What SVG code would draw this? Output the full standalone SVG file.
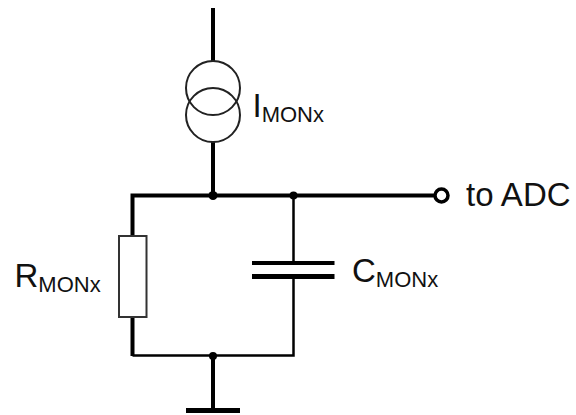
<svg xmlns="http://www.w3.org/2000/svg" width="576" height="415" viewBox="0 0 576 415">
<style>
.w{fill:none;stroke:#000;stroke-linecap:butt;stroke-linejoin:miter}
.t4{stroke-width:4}.t3{stroke-width:2.500}.t5{stroke-width:5}
.s{fill:none;stroke:#222;stroke-width:2}
text{font-family:"Liberation Sans",Arial,sans-serif;fill:#111}
.m{font-size:33px}.b{font-size:22px}
</style>
<rect width="576" height="415" fill="#fff"/>
<g id="connectors">
<path class="w t4" d="M213 8V61M213 142V195M132.500 317V356"/>
<path class="w t4" d="M132.500 236V195.500H434"/>
<path class="w t3" d="M132.500 355.500H293.500V276M293.500 195V263"/>
<path class="w t4" d="M213 356V410"/>
<circle cx="213" cy="195.500" r="4.500"/>
<circle cx="293.500" cy="195.500" r="4"/>
<circle cx="213" cy="356" r="4"/>
</g>
<g id="source"><circle class="s" cx="213" cy="88" r="27"/><circle class="s" cx="213" cy="115" r="27"/>
<text x="252.500" y="117" class="m">I<tspan class="b" dy="5">MONx</tspan></text></g>
<g id="resistor"><rect x="119" y="236" width="27.500" height="81" fill="#fff" stroke="#333" stroke-width="2"/>
<text x="14.500" y="287" class="m">R<tspan class="b" dy="5">MONx</tspan></text></g>
<g id="capacitor"><path class="w t4" d="M252 263H334.500"/><path class="w t5" d="M252 276.500H334.500"/>
<text x="352" y="282" class="m">C<tspan class="b" dy="5">MONx</tspan></text></g>
<g id="ground"><path class="w t5" d="M186 410.500H240"/></g>
<g id="output"><circle cx="441.500" cy="195.500" r="6.500" fill="#fff" stroke="#000" stroke-width="3.500"/>
<text x="466" y="206" class="m">to ADC</text></g>
</svg>
